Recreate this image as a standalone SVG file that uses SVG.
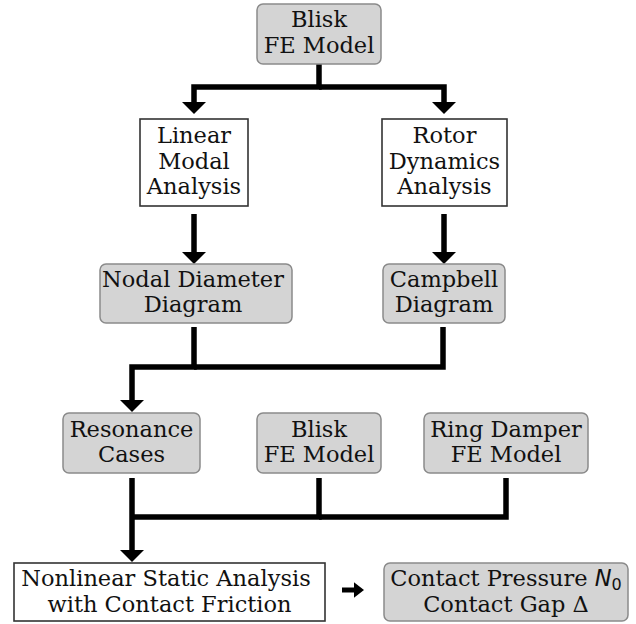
<svg xmlns="http://www.w3.org/2000/svg" width="636" height="624" viewBox="0 0 636 624">
<defs>
<style>
.g{fill:#d4d4d4;stroke:#8a8a8a;stroke-width:1.5}
.w{fill:#fff;stroke:#333;stroke-width:1.6}
text{font-family:"DejaVu Serif","Liberation Serif",serif;font-size:22.5px;fill:#111;text-anchor:middle}
.c{fill:none;stroke:#000;stroke-width:5.5;stroke-linejoin:miter}
</style>
<marker id="ah" markerUnits="userSpaceOnUse" markerWidth="12" markerHeight="24" refX="0" refY="11" orient="auto" viewBox="0 0 11 22">
<path d="M0,0 L11,11 L0,22 Z" fill="#000"/>
</marker>
<marker id="ahs" markerUnits="userSpaceOnUse" markerWidth="10" markerHeight="16" refX="0" refY="7" orient="auto" viewBox="0 0 9 14">
<path d="M0,0 L9,7 L0,14 Z" fill="#000"/>
</marker>
</defs>
<g id="connectors">
<path class="c" d="M319,64 V87 H194 V102" marker-end="url(#ah)"/>
<path class="c" d="M319,87 H444 V102" marker-end="url(#ah)"/>
<path class="c" d="M194,214 V252" marker-end="url(#ah)"/>
<path class="c" d="M444,214 V252" marker-end="url(#ah)"/>
<path class="c" d="M194,327 V367 H132 V400" marker-end="url(#ah)"/>
<path class="c" d="M443,327 V367 H194"/>
<path class="c" d="M132,478 V550" marker-end="url(#ah)"/>
<path class="c" d="M319,478 V517 H132"/>
<path class="c" d="M506,478 V517 H319"/>
<path class="c" style="stroke-width:5" d="M342,590 H354" marker-end="url(#ahs)"/>
</g>
<g id="blisk-top">
<rect class="g" x="257" y="4" width="124" height="60" rx="6"/>
<text x="319" y="27">Blisk</text>
<text x="319" y="53">FE Model</text>
</g>
<g id="linear-modal">
<rect class="w" x="140" y="119" width="108" height="87"/>
<text x="194" y="143">Linear</text>
<text x="194" y="169">Modal</text>
<text x="194" y="194">Analysis</text>
</g>
<g id="rotor-dynamics">
<rect class="w" x="382" y="119" width="125" height="87"/>
<text x="444.5" y="143">Rotor</text>
<text x="444.5" y="169">Dynamics</text>
<text x="444.5" y="194">Analysis</text>
</g>
<g id="nodal-diameter">
<rect class="g" x="100" y="264" width="192" height="59" rx="6"/>
<text x="193" y="287">Nodal Diameter</text>
<text x="193" y="312">Diagram</text>
</g>
<g id="campbell">
<rect class="g" x="383" y="264" width="122" height="59" rx="6"/>
<text x="444" y="287">Campbell</text>
<text x="444" y="312">Diagram</text>
</g>
<g id="resonance">
<rect class="g" x="63" y="413" width="137" height="60" rx="6"/>
<text x="131.5" y="437">Resonance</text>
<text x="131.5" y="462">Cases</text>
</g>
<g id="blisk-bottom">
<rect class="g" x="257" y="413" width="124" height="60" rx="6"/>
<text x="319" y="437">Blisk</text>
<text x="319" y="462">FE Model</text>
</g>
<g id="ring-damper">
<rect class="g" x="424" y="413" width="164" height="60" rx="6"/>
<text x="506" y="437">Ring Damper</text>
<text x="506" y="462">FE Model</text>
</g>
<g id="nonlinear-static">
<rect class="w" x="14" y="563" width="311" height="58"/>
<text x="166" y="586">Nonlinear Static Analysis</text>
<text x="169.5" y="612">with Contact Friction</text>
</g>
<g id="contact">
<rect class="g" x="384" y="563" width="244" height="58" rx="6"/>
<text x="506" y="586">Contact Pressure <tspan font-family="DejaVu Sans" font-style="italic">N</tspan><tspan font-family="DejaVu Sans" font-size="16" dy="4">0</tspan></text>
<text x="506" y="612">Contact Gap Δ</text>
</g>
</svg>
